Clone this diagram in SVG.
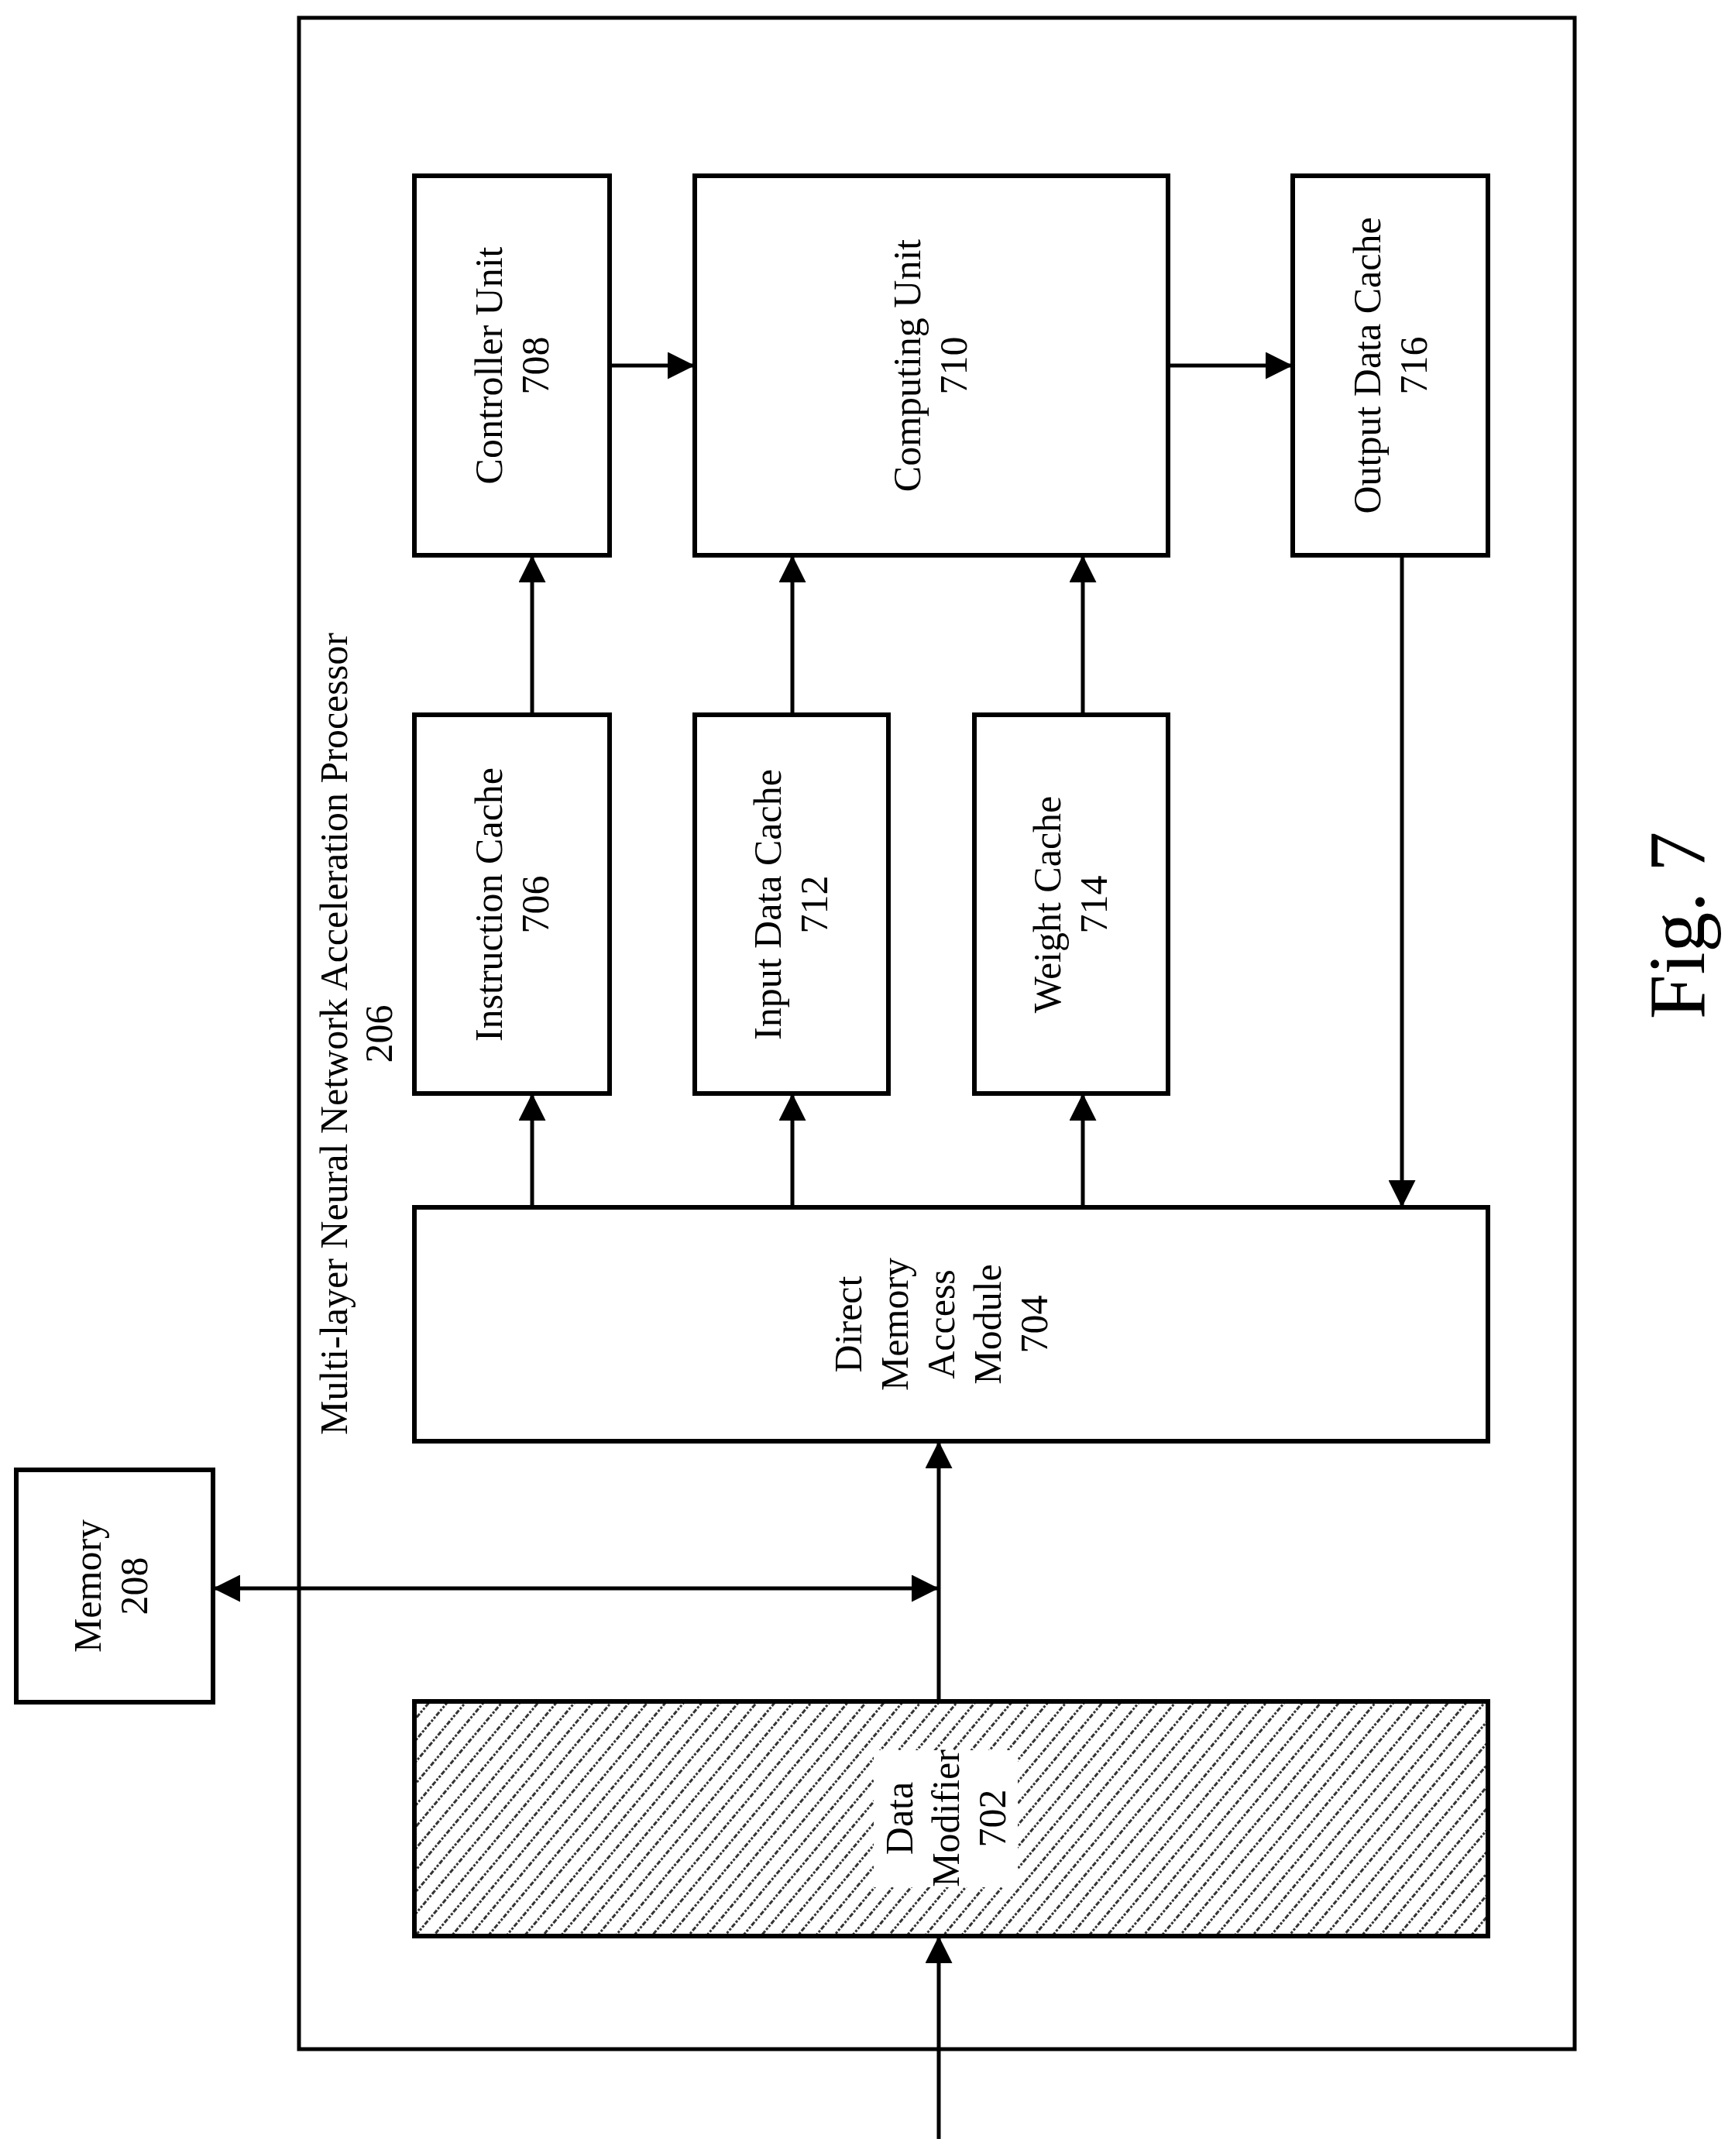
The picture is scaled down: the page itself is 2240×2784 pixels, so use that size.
<svg xmlns="http://www.w3.org/2000/svg" width="2240" height="2784" viewBox="0 0 2240 2784">
<style>
.b{fill:#fff;stroke:#000;stroke-width:6}
.t{font-family:"Liberation Serif",serif;font-size:50px;text-anchor:middle;fill:#000}
.c{stroke:#000;stroke-width:5;fill:none}
</style>
<defs>
<marker id="a" viewBox="0 0 10 10" refX="10" refY="5" markerWidth="8" markerHeight="7" markerUnits="strokeWidth" orient="auto-start-reverse"><path d="M0,0L10,5L0,10z" fill="#000"/></marker>
<pattern id="h" width="18" height="18" patternUnits="userSpaceOnUse" patternTransform="rotate(40)">
<rect width="18" height="18" fill="#fff"/>
<line x1="0" y1="0" x2="0" y2="18" stroke="#333" stroke-width="6" stroke-dasharray="3 2"/>
</pattern>
</defs>
<rect x="0" y="0" width="2240" height="2784" fill="#fff"/>
<g id="processor"><rect x="386" y="23" width="1647" height="2623" fill="none" stroke="#000" stroke-width="5"/>
<text class="t" transform="translate(448,1335) rotate(-90)">Multi-layer Neural Network Acceleration Processor</text>
<text class="t" transform="translate(506,1335) rotate(-90)">206</text></g>
<g id="controller"><rect class="b" x="535" y="227" width="252" height="490"/>
<text class="t" transform="translate(648,472) rotate(-90)">Controller Unit</text><text class="t" transform="translate(708,472) rotate(-90)">708</text></g>
<g id="computing"><rect class="b" x="897" y="227" width="611" height="490"/>
<text class="t" transform="translate(1188,472) rotate(-90)">Computing Unit</text><text class="t" transform="translate(1248,472) rotate(-90)">710</text></g>
<g id="output"><rect class="b" x="1669" y="227" width="252" height="490"/>
<text class="t" transform="translate(1782,472) rotate(-90)">Output Data Cache</text><text class="t" transform="translate(1842,472) rotate(-90)">716</text></g>
<g id="instr"><rect class="b" x="535" y="923" width="252" height="489"/>
<text class="t" transform="translate(648,1168) rotate(-90)">Instruction Cache</text><text class="t" transform="translate(708,1168) rotate(-90)">706</text></g>
<g id="input"><rect class="b" x="897" y="923" width="250" height="489"/>
<text class="t" transform="translate(1008,1168) rotate(-90)">Input Data Cache</text><text class="t" transform="translate(1068,1168) rotate(-90)">712</text></g>
<g id="weight"><rect class="b" x="1258" y="923" width="250" height="489"/>
<text class="t" transform="translate(1369,1168) rotate(-90)">Weight Cache</text><text class="t" transform="translate(1429,1168) rotate(-90)">714</text></g>
<g id="dma"><rect class="b" x="535" y="1559" width="1386" height="302"/>
<text class="t" transform="translate(1112,1710) rotate(-90)">Direct</text>
<text class="t" transform="translate(1172,1710) rotate(-90)">Memory</text>
<text class="t" transform="translate(1232,1710) rotate(-90)">Access</text>
<text class="t" transform="translate(1292,1710) rotate(-90)">Module</text>
<text class="t" transform="translate(1352,1710) rotate(-90)">704</text></g>
<g id="modifier"><rect x="535" y="2197" width="1386" height="303" fill="url(#h)" stroke="#000" stroke-width="6"/>
<rect x="1128" y="2260" width="186" height="177" fill="#fff"/>
<text class="t" transform="translate(1178,2348) rotate(-90)">Data</text>
<text class="t" transform="translate(1238,2348) rotate(-90)">Modifier</text>
<text class="t" transform="translate(1298,2348) rotate(-90)">702</text></g>
<g id="memory"><rect class="b" x="21" y="1898" width="254" height="300"/>
<text class="t" transform="translate(130,2048) rotate(-90)">Memory</text><text class="t" transform="translate(190,2048) rotate(-90)">208</text></g>
<g id="connectors">
<line class="c" x1="787" y1="472" x2="897" y2="472" marker-end="url(#a)"/>
<line class="c" x1="1508" y1="472" x2="1669" y2="472" marker-end="url(#a)"/>
<line class="c" x1="687" y1="923" x2="687" y2="717" marker-end="url(#a)"/>
<line class="c" x1="1023" y1="923" x2="1023" y2="717" marker-end="url(#a)"/>
<line class="c" x1="1398" y1="923" x2="1398" y2="717" marker-end="url(#a)"/>
<line class="c" x1="687" y1="1559" x2="687" y2="1412" marker-end="url(#a)"/>
<line class="c" x1="1023" y1="1559" x2="1023" y2="1412" marker-end="url(#a)"/>
<line class="c" x1="1398" y1="1559" x2="1398" y2="1412" marker-end="url(#a)"/>
<line class="c" x1="1810" y1="717" x2="1810" y2="1559" marker-end="url(#a)"/>
<line class="c" x1="1212" y1="2197" x2="1212" y2="1861" marker-end="url(#a)"/>
<line class="c" x1="275" y1="2051" x2="1212" y2="2051" marker-start="url(#a)" marker-end="url(#a)"/>
<line class="c" x1="1212" y1="2762" x2="1212" y2="2500" marker-end="url(#a)"/>
</g>
<text font-family="Liberation Serif,serif" font-size="104" text-anchor="middle" transform="translate(2200,1195) rotate(-90)">Fig. 7</text>
</svg>
